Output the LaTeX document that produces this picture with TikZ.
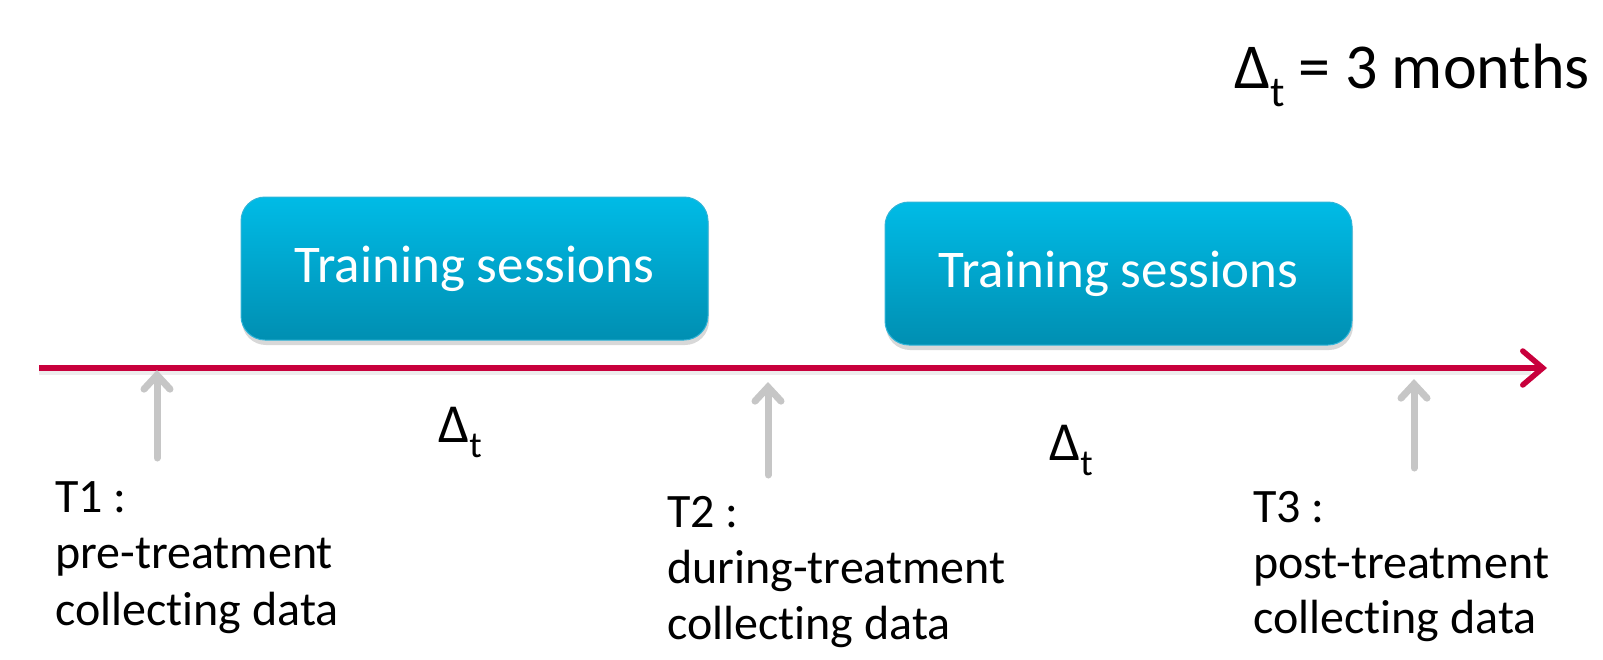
\documentclass[tikz,border=0pt]{standalone}
\usepackage{fontspec}
\setmainfont{Carlito}[Ligatures=CommonOff]
\usetikzlibrary{arrows.meta,shadows}

\definecolor{axisred}{HTML}{C8003C}
\definecolor{markgray}{HTML}{C6C6C6}
\definecolor{boxtop}{HTML}{00BBE6}
\definecolor{boxbot}{HTML}{008FB2}
\definecolor{boxedge}{HTML}{30B4D8}

\tikzset{
  sessionbox/.style={draw=boxedge, line width=1pt, rounded corners=24pt,
    top color=boxtop, bottom color=boxbot, minimum width=467pt, minimum height=143pt,
    inner sep=0pt, text=white, font=\fontsize{53}{58}\selectfont,
    drop shadow={shadow xshift=1pt, shadow yshift=-5pt, opacity=.22, fill=black!70}},
  labelline/.style={anchor=base west, inner sep=0pt, font=\fontsize{48}{56}\selectfont},
  timeaxis/.style={draw=axisred, line width=5.5pt,
    -{Straight Barb[length=20pt, width=34pt, line cap=round]}},
  markarrow/.style={draw=markgray, line width=7pt, line cap=round,
    -{Straight Barb[length=14pt, width=26pt, line cap=round]}},
  softshadow/.style={draw=black, opacity=.07, line width=8pt}
}

% capital delta with a lowered t
\newcommand\intervalmark[2]{Δ\raisebox{-#2pt}{\fontsize{#1}{#1}\selectfont t}}

\begin{document}
\begin{tikzpicture}[x=1pt, y=-1pt]
  \useasboundingbox (0,0) rectangle (1603,659);

  % interval length
  \node[anchor=base west, inner sep=0pt, font=\fontsize{64}{70}\selectfont]
    (scale) at (1234,88) {\intervalmark{43}{18}\hspace{14pt}= 3 months};

  % training blocks
  \node[sessionbox] (train1) at (474.5,268.5) {Training sessions};
  \node[sessionbox] (train2) at (1118.5,273.5) {Training sessions};

  % time axis
  \coordinate (axisstart) at (39,368);
  \coordinate (axisend) at (1547,368);
  \draw[softshadow] ([yshift=-3pt]axisstart) -- ([yshift=-3pt, xshift=-16pt]axisend);
  \draw[timeaxis] (axisstart) -- (axisend);

  % measurement points
  \coordinate (m1base) at (157,458);
  \coordinate (m1tip)  at (157,370);
  \coordinate (m2base) at (768,475);
  \coordinate (m2tip)  at (768,382);
  \coordinate (m3base) at (1414,468);
  \coordinate (m3tip)  at (1414,379);
  \draw[markarrow] (m1base) -- (m1tip);
  \draw[markarrow] (m2base) -- (m2tip);
  \draw[markarrow] (m3base) -- (m3tip);

  % interval labels
  \node[anchor=base west, inner sep=0pt, font=\fontsize{55}{60}\selectfont]
    (gap1) at (438,442) {\intervalmark{37}{15}};
  \node[anchor=base west, inner sep=0pt, font=\fontsize{55}{60}\selectfont]
    (gap2) at (1049,460) {\intervalmark{37}{15}};

  % measurement descriptions
  \node[labelline] (t1a) at (55,512) {T1 :};
  \node[labelline] (t1b) at (55,568) {pre-treatment};
  \node[labelline] (t1c) at (55,625) {collecting data};

  \node[labelline] (t2a) at (667,527) {T2 :};
  \node[labelline] (t2b) at (667,583) {during-treatment};
  \node[labelline] (t2c) at (667,639) {collecting data};

  \node[labelline] (t3a) at (1253,522) {T3 :};
  \node[labelline] (t3b) at (1253,578) {post-treatment};
  \node[labelline] (t3c) at (1253,633) {collecting data};
\end{tikzpicture}
\end{document}
